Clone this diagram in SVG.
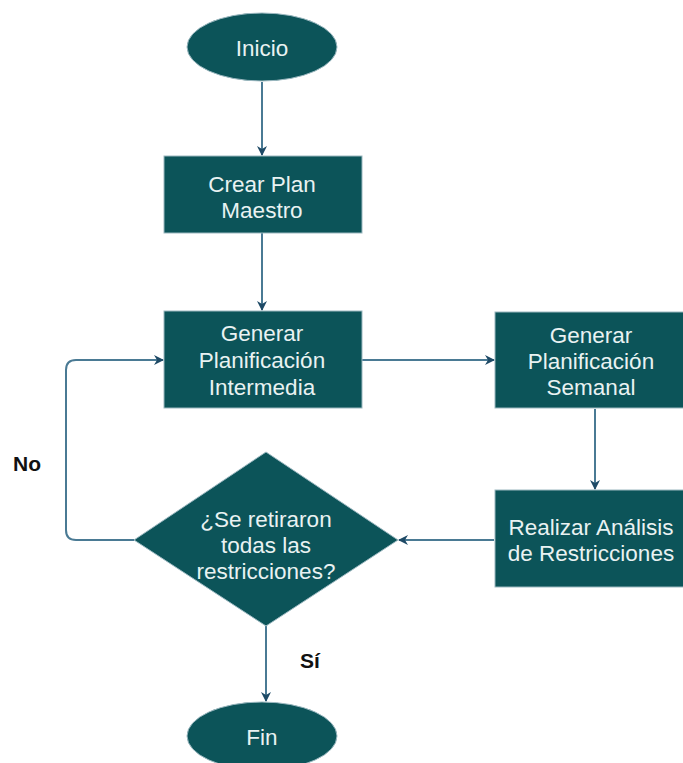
<svg xmlns="http://www.w3.org/2000/svg" width="683" height="763" viewBox="0 0 683 763">
  <style>
    .shape { fill: #0c5459; stroke: #9bb8c0; stroke-width: 1; }
    .label { fill: #e9f2f2; font-family: "Liberation Sans", Arial, sans-serif; font-size: 22.5px; text-anchor: middle; }
    .edge { fill: none; stroke: #4a7a94; stroke-width: 2; marker-end: url(#arrow); }
    .tag { fill: #111; font-family: "Liberation Sans", Arial, sans-serif; font-size: 21px; font-weight: bold; }
  </style>
  <defs>
    <marker id="arrow" viewBox="0 0 10 10" refX="9" refY="5" markerWidth="10" markerHeight="10" markerUnits="userSpaceOnUse" orient="auto">
      <path d="M0,0 L10,5 L0,10 L3,5 Z" fill="#1e4a66"/>
    </marker>
  </defs>
  <rect width="683" height="763" fill="#ffffff"/>

  <g id="connectors">
    <path class="edge" d="M262,82 L262,155"/>
    <path class="edge" d="M262,233 L262,310"/>
    <path class="edge" d="M362,360 L494,360"/>
    <path class="edge" d="M595,409 L595,489"/>
    <path class="edge" d="M494,540 L399,540"/>
    <path class="edge" d="M134,540 L76,540 Q66,540 66,530 L66,370 Q66,360 76,360 L163,360"/>
    <path class="edge" d="M266,626 L266,701"/>
  </g>

  <g id="inicio">
    <ellipse class="shape" cx="262" cy="47" rx="75" ry="34"/>
    <text class="label" x="262" y="56">Inicio</text>
  </g>

  <g id="crear-plan-maestro">
    <rect class="shape" x="164" y="156" width="198" height="77"/>
    <text class="label" x="262" y="192">Crear Plan</text>
    <text class="label" x="262" y="218">Maestro</text>
  </g>

  <g id="planificacion-intermedia">
    <rect class="shape" x="164" y="311" width="198" height="97"/>
    <text class="label" x="262" y="341">Generar</text>
    <text class="label" x="262" y="368">Planificación</text>
    <text class="label" x="262" y="395">Intermedia</text>
  </g>

  <g id="planificacion-semanal">
    <rect class="shape" x="495" y="312" width="192" height="96"/>
    <text class="label" x="591" y="343">Generar</text>
    <text class="label" x="591" y="369">Planificación</text>
    <text class="label" x="591" y="395">Semanal</text>
  </g>

  <g id="analisis-restricciones">
    <rect class="shape" x="495" y="490" width="192" height="97"/>
    <text class="label" x="591" y="535">Realizar Análisis</text>
    <text class="label" x="591" y="561">de Restricciones</text>
  </g>

  <g id="decision">
    <polygon class="shape" points="266,452 398,540 266,626 134,540"/>
    <text class="label" x="266" y="527">¿Se retiraron</text>
    <text class="label" x="266" y="553">todas las</text>
    <text class="label" x="266" y="579">restricciones?</text>
  </g>

  <g id="fin">
    <ellipse class="shape" cx="262" cy="736" rx="75" ry="34"/>
    <text class="label" x="262" y="745">Fin</text>
  </g>

  <g id="edge-labels">
    <text class="tag" x="13" y="471">No</text>
    <text class="tag" x="300" y="668">Sí</text>
  </g>
</svg>
